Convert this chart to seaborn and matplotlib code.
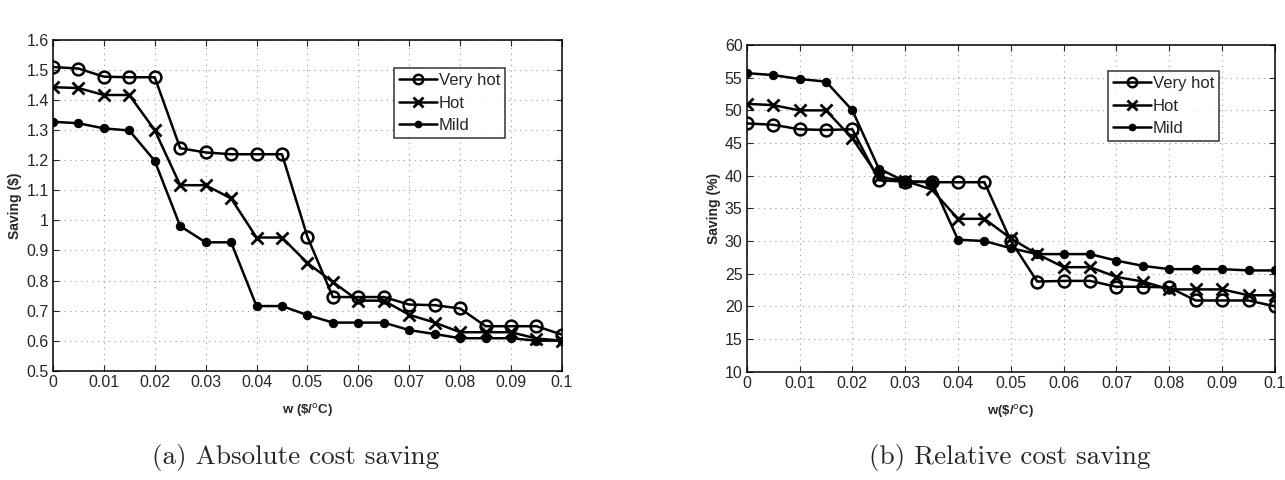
import numpy as np
import pandas as pd
import seaborn as sns
import matplotlib
matplotlib.use("Agg")
import matplotlib.pyplot as plt

# weight values w ($/°C)
w = [0, 0.005, 0.01, 0.015, 0.02, 0.025, 0.03, 0.035, 0.04, 0.045, 0.05,
     0.055, 0.06, 0.065, 0.07, 0.075, 0.08, 0.085, 0.09, 0.095, 0.1]

# (a) absolute saving ($)
abs_very_hot = [1.51, 1.505, 1.478, 1.476, 1.476, 1.24, 1.226, 1.22, 1.22, 1.22, 0.945,
                0.745, 0.745, 0.745, 0.72, 0.718, 0.707, 0.648, 0.648, 0.648, 0.62]
abs_hot = [1.443, 1.44, 1.417, 1.417, 1.30, 1.117, 1.117, 1.073, 0.943, 0.943, 0.858,
           0.795, 0.733, 0.733, 0.686, 0.66, 0.628, 0.628, 0.628, 0.607, 0.60]
abs_mild = [1.328, 1.323, 1.306, 1.299, 1.198, 0.981, 0.927, 0.927, 0.715, 0.715, 0.685,
            0.66, 0.66, 0.66, 0.635, 0.622, 0.608, 0.608, 0.608, 0.6, 0.6]

# (b) relative saving (%)
rel_very_hot = [48.0, 47.8, 47.1, 47.0, 47.1, 39.3, 39.1, 39.0, 39.0, 39.0, 30.0,
                23.8, 23.9, 23.9, 23.0, 23.0, 22.9, 20.9, 20.9, 20.9, 20.0]
rel_hot = [51.0, 50.8, 50.0, 50.0, 45.7, 39.8, 39.2, 37.9, 33.4, 33.4, 30.4,
           28.0, 26.0, 26.0, 24.5, 23.8, 22.6, 22.6, 22.6, 21.7, 21.7]
rel_mild = [55.7, 55.4, 54.8, 54.4, 50.0, 41.1, 39.1, 39.1, 30.2, 30.0, 28.9,
            28.0, 28.0, 28.0, 27.0, 26.2, 25.7, 25.7, 25.7, 25.5, 25.5]

series = ["Very hot", "Hot", "Mild"]

sns.set_style("ticks")
plt.rcParams["font.family"] = ["Liberation Sans", "DejaVu Sans"]

fig = plt.figure(figsize=(12.85, 4.8), dpi=100)
ax1 = fig.add_axes([0.0412, 0.2277, 0.3961, 0.689])
ax2 = fig.add_axes([0.5811, 0.2256, 0.4111, 0.6806])

styles = {
    "Very hot": dict(marker="o", markersize=8.5, markerfacecolor="none",
                     markeredgewidth=1.8),
    "Hot": dict(marker="x", markersize=8.5, markeredgewidth=2.0),
    "Mild": dict(marker="o", markersize=6, markerfacecolor="black"),
}


def draw(ax, values, ylim, yticks, ylabel, xlabel, caption, cap_x, legend_pos):
    df = pd.DataFrame({"w": w * 3,
                       "saving": values[0] + values[1] + values[2],
                       "climate": [s for s in series for _ in w]})
    for s in series:
        sub = df[df["climate"] == s]
        sns.lineplot(data=sub, x="w", y="saving", ax=ax, color="black",
                     linewidth=1.8, label=s, markeredgecolor="black",
                     **styles[s])
    ax.set_xlim(0, 0.1)
    ax.set_ylim(*ylim)
    ax.set_xticks(np.arange(0, 0.1001, 0.01))
    ax.set_xticklabels(["0", "0.01", "0.02", "0.03", "0.04", "0.05", "0.06",
                        "0.07", "0.08", "0.09", "0.1"])
    ax.set_yticks(yticks)
    ax.set_yticklabels([("%g" % t) for t in yticks])
    ax.grid(True, linestyle=(0, (1, 4)), color="#999999", linewidth=0.8)
    ax.tick_params(direction="in", top=True, right=True, length=4,
                   labelsize=11.5, width=0.8, pad=3)
    for sp in ax.spines.values():
        sp.set_visible(True)
        sp.set_linewidth(1.1)
        sp.set_color("black")
    ax.set_ylabel(ylabel, fontsize=10, fontweight="bold", labelpad=3)
    ax.set_xlabel(xlabel, fontsize=9.5, fontweight="bold", labelpad=9)
    leg = ax.legend(loc="upper left", bbox_to_anchor=legend_pos, frameon=True,
                    fancybox=False, edgecolor="black", fontsize=12,
                    handlelength=2.3, handletextpad=0.1, borderpad=0.3,
                    labelspacing=0.45, borderaxespad=0, markerscale=0.8)
    leg.get_frame().set_linewidth(1.1)
    fig.text(cap_x, 0.046, caption, ha="center", va="center", fontsize=19.5,
             family=["cmr10", "Liberation Serif", "DejaVu Serif"])


draw(ax1, [abs_very_hot, abs_hot, abs_mild], (0.5, 1.6),
     np.round(np.arange(0.5, 1.601, 0.1), 1), "Saving ($)", r"w (\$/$^{\rm o}$C)",
     "(a) Absolute cost saving", 296 / 1285, (0.67, 0.915))
draw(ax2, [rel_very_hot, rel_hot, rel_mild], (10, 60),
     list(range(10, 61, 5)), "Saving (%)", r"w(\$/$^{\rm o}$C)",
     "(b) Relative cost saving", 1010 / 1285, (0.683, 0.92))

fig.savefig("out.png", dpi=100)
